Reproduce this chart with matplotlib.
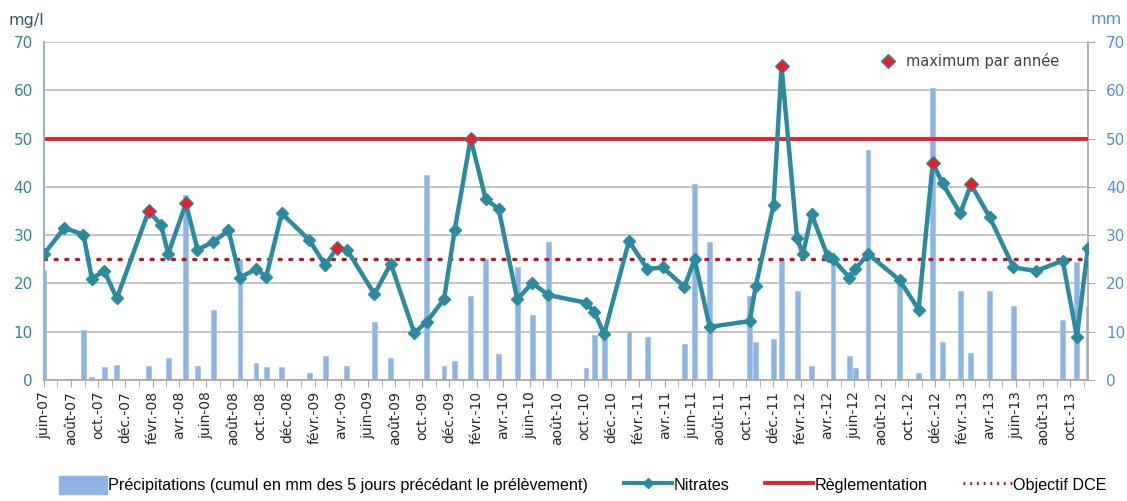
import matplotlib
matplotlib.use("Agg")
import matplotlib.pyplot as plt
import matplotlib.dates as mdates
from matplotlib.lines import Line2D
from matplotlib.patches import Patch
import pandas as pd

# sampling dates (nitrates + rain of the 5 previous days)
dates = [
    "2007-06-01", "2007-07-17", "2007-08-29", "2007-09-17", "2007-10-15", "2007-11-12",
    "2008-01-23", "2008-02-20", "2008-03-07", "2008-04-16", "2008-05-12", "2008-06-17",
    "2008-07-21", "2008-08-16", "2008-09-21", "2008-10-14", "2008-11-18", "2009-01-19",
    "2009-02-24", "2009-03-23", "2009-04-14", "2009-06-15", "2009-07-22", "2009-09-13",
    "2009-10-11", "2009-11-19", "2009-12-13", "2010-01-18", "2010-02-21", "2010-03-22",
    "2010-05-03", "2010-06-06", "2010-07-12", "2010-10-05", "2010-10-24", "2010-11-15",
    "2011-01-10", "2011-02-20", "2011-03-27", "2011-05-15", "2011-06-07", "2011-07-11",
    "2011-10-09", "2011-10-23", "2011-12-02", "2011-12-20", "2012-01-24", "2012-02-06",
    "2012-02-26", "2012-04-02", "2012-04-14", "2012-05-21", "2012-06-03", "2012-07-02",
    "2012-09-11", "2012-10-24", "2012-11-25", "2012-12-17", "2013-01-26", "2013-02-19",
    "2013-04-02", "2013-05-26", "2013-07-16", "2013-09-14", "2013-10-16", "2013-11-10",
]
nitrates = [
    26.1, 31.5, 30.1, 21.0, 22.6, 16.9,
    35.0, 32.1, 26.1, 36.6, 27.0, 28.6,
    31.0, 21.2, 23.0, 21.4, 34.5, 29.0,
    23.8, 27.4, 27.0, 17.8, 24.1, 9.7,
    12.1, 16.7, 31.0, 50.0, 37.4, 35.5,
    16.7, 20.1, 17.6, 16.0, 14.1, 9.5,
    28.8, 23.0, 23.3, 19.3, 25.0, 11.0,
    12.2, 19.5, 36.3, 65.0, 29.4, 26.0,
    34.3, 25.6, 25.0, 21.2, 22.9, 26.1,
    20.7, 14.6, 45.0, 40.7, 34.5, 40.5,
    33.8, 23.3, 22.6, 24.7, 9.0, 27.4,
]
precipitations = [
    22.8, 0.0, 10.3, 0.7, 2.6, 3.1,
    3.0, 0.0, 4.5, 38.4, 3.0, 14.5,
    0.0, 25.0, 3.5, 2.6, 2.6, 1.5,
    5.0, 0.0, 3.0, 12.0, 4.5, 0.0,
    42.4, 3.0, 3.9, 17.4, 25.0, 5.3,
    23.4, 13.4, 28.5, 2.4, 9.4, 9.0,
    9.9, 9.0, 0.0, 7.4, 40.5, 28.5,
    17.4, 7.9, 8.4, 25.0, 18.5, 0.0,
    3.0, 0.0, 25.0, 5.0, 2.4, 47.6,
    20.7, 1.5, 60.4, 7.9, 18.5, 5.5,
    18.5, 15.4, 0.0, 12.4, 24.5, 15.4,
]
max_dates = ["2008-01-23", "2008-04-16", "2009-03-23", "2010-01-18",
             "2011-12-20", "2012-11-25", "2013-02-19"]
reglementation = 50
objectif_dce = 25

mois = {1: "janv.", 2: "févr.", 3: "mars", 4: "avr.", 5: "mai", 6: "juin",
        7: "juil.", 8: "août", 9: "sept.", 10: "oct.", 11: "nov.", 12: "déc."}

teal = "#2B8A9E"
bar_col = "#8DB4E2"
red = "#E8202A"
dred = "#C0101A"

df = pd.DataFrame({"date": pd.to_datetime(dates), "no3": nitrates, "pluie": precipitations})
dmax = pd.to_datetime(max_dates)
vmax = df.set_index("date").loc[dmax, "no3"]

fig = plt.figure(figsize=(11.27, 5.01), dpi=100)
ax = fig.add_axes([44 / 1127, 1 - 380 / 501, (1088 - 44) / 1127, (380 - 42) / 501])
ax2 = ax.twinx()
ax.set_zorder(ax2.get_zorder() + 1)
ax.patch.set_visible(False)

# rain bars on the mm axis
ax2.bar(df["date"], df["pluie"], width=11, color=bar_col, edgecolor="#A9C6EA", linewidth=0.6)
ax2.yaxis.grid(True, color="#BFBFBF", lw=1.3)
ax2.set_axisbelow(True)

# nitrates and thresholds
ax.axhline(reglementation, color=red, lw=2.8, zorder=2)
ax.axhline(objectif_dce, color=dred, lw=2.4, ls=(0, (0.6, 2.6)), dash_capstyle="round", zorder=2)
ax.plot(df["date"], df["no3"], color=teal, lw=3.2, marker="D", ms=6.5, zorder=3)
ax.plot(dmax, vmax, ls="none", marker="D", ms=7, mfc=red, mec=teal, mew=0.8, zorder=4)

xmin, xmax = pd.Timestamp("2007-06-01"), pd.Timestamp("2013-11-10")
for a in (ax, ax2):
    a.set_ylim(0, 70)
    a.set_yticks(range(0, 71, 10))
    a.set_xlim(xmin, xmax)
    for s in a.spines.values():
        s.set_visible(False)

ax.spines["left"].set_visible(True)
ax.spines["left"].set_color("#95B3D7")
ax.spines["left"].set_linewidth(1.5)
ax.spines["bottom"].set_visible(True)
ax.spines["bottom"].set_color("#A6A6A6")
ax.spines["bottom"].set_linewidth(1.2)
ax2.spines["right"].set_visible(True)
ax2.spines["right"].set_color("#A6A6A6")
ax2.spines["right"].set_linewidth(1.2)

ax.xaxis.set_major_locator(mdates.MonthLocator(bymonth=[2, 4, 6, 8, 10, 12]))
ax.xaxis.set_minor_locator(mdates.MonthLocator())
ax.xaxis.set_major_formatter(plt.FuncFormatter(
    lambda x, pos: f"{mois[mdates.num2date(x).month]}-{mdates.num2date(x):%y}"))
ax.tick_params(axis="x", which="both", direction="out", length=5, color="#A6A6A6",
               labelrotation=90, labelsize=10, labelcolor="#262626", pad=3)
ax.tick_params(axis="y", length=0, labelsize=11, labelcolor="#31849B", pad=8)
ax2.tick_params(axis="y", direction="out", length=5, color="#A6A6A6",
                labelsize=11, labelcolor="#558ED5", pad=8)

fig.text(8 / 1127, 1 - 20 / 501, "mg/l", fontsize=11.5, color="#31566A", va="center")
fig.text(1090 / 1127, 1 - 20 / 501, "mm", fontsize=11.5, color="#558ED5", va="center")

ax.legend(handles=[Line2D([], [], ls="none", marker="D", ms=7, mfc=red, mec=teal)],
          labels=["maximum par année"], loc="upper right", bbox_to_anchor=(0.985, 1.005),
          frameon=False, fontsize=10.5, handletextpad=0.2, labelcolor="#404040")

handles = [
    Patch(facecolor=bar_col, edgecolor=bar_col),
    Line2D([], [], color=teal, lw=3, marker="D", ms=5),
    Line2D([], [], color=red, lw=2.8),
    Line2D([], [], color=dred, lw=2.2, ls=(0, (0.6, 1.6))),
]
labels = ["Précipitations (cumul en mm des 5 jours précédant le prélèvement)",
          "Nitrates", "Règlementation", "Objectif DCE"]
fig.legend(handles, labels, loc="center", bbox_to_anchor=(0.517, 0.032), ncol=4,
           frameon=False, handlelength=3.0, handleheight=1.3, handletextpad=0.1, columnspacing=2.2,
           prop={"family": ["Liberation Sans", "DejaVu Sans"], "size": 11.6})

fig.savefig("out.png", dpi=100)
